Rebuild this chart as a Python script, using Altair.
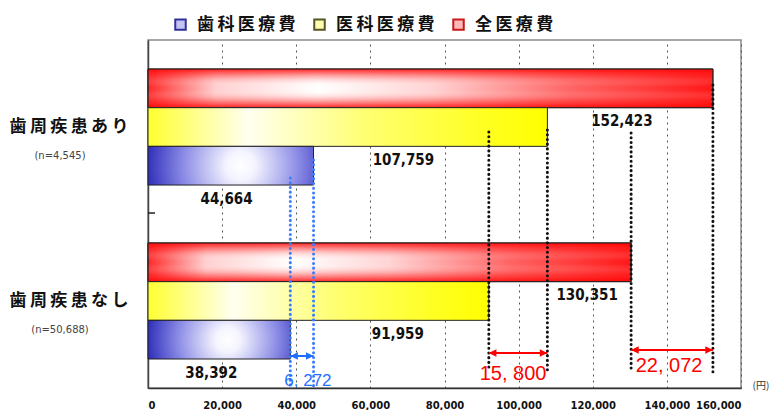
import altair as alt
import pandas as pd

# ---------------- data ----------------
groups = ["歯周疾患あり", "歯周疾患なし"]
sample_sizes = ["(n=4,545)", "(n=50,688)"]
series = ["全医療費", "医科医療費", "歯科医療費"]          # top -> bottom inside a group
legend_order = ["歯科医療費", "医科医療費", "全医療費"]
cost_with = [152423, 107759, 44664]      # 歯周疾患あり
cost_without = [130351, 91959, 38392]    # 歯周疾患なし
x_ticks = [0, 20000, 40000, 60000, 80000, 100000, 120000, 140000, 160000]

W, H = 593, 348
CJK = "Noto Sans CJK JP"
NUM = "DejaVu Sans Condensed"
ANN = "Liberation Sans"
XT = "(円)"

rows = []
for g, vals in zip(groups, [cost_with, cost_without]):
    for s, v in zip(series, vals):
        rows.append({"group": g, "series": s, "value": v})
bars_df = pd.DataFrame(rows)

spaced = "join(split(datum.label, ''), '\u2009')"

y_axis = alt.Axis(labelFont=CJK, labelFontSize=17, labelFontWeight="bold",
                  labelColor="#111", labelPadding=20, ticks=False, domain=True,
                  domainColor="#444", domainWidth=1.5, labelExpr=spaced, labelLimit=300)
x_axis = alt.Axis(values=x_ticks, format=",", labelExpr="format(datum.value, ',')",
                  labelFont="DejaVu Sans", labelFontSize=10,
                  labelFontWeight="bold", labelColor="#111", labelPadding=12, ticks=False,
                  grid=True, gridDash=[2, 4], gridColor="#555", gridWidth=1,
                  domainColor="#333", domainWidth=1.5,
                  titleX=604, titleY=-3, titleAlign="left", titleBaseline="middle",
                  titleFont=CJK, titleFontSize=10, titleFontWeight="normal", titleColor="#333")
x_scale = alt.Scale(domain=[0, 160000], nice=False, zero=True)
y_scale = alt.Scale(domain=groups, paddingInner=0.333, paddingOuter=0.1667)


def X(field):
    return alt.X(field, scale=x_scale, axis=x_axis, title=XT)


def Y():
    return alt.Y("group:N", scale=y_scale, axis=y_axis, title=None)


yoff_enc = alt.YOffset("series:N", scale=alt.Scale(domain=series, paddingInner=0, paddingOuter=0))


def gs(c, o):
    return alt.GradientStop(color=c, offset=o)


fills = {
    "全医療費": alt.LinearGradient(
        gradient="linear", x1=0, y1=0, x2=1, y2=0,
        stops=[gs("#ff2a2a", 0), gs("#ffd0d0", 0.12), gs("#ffffff", 0.3),
               gs("#ffd4d4", 0.5), gs("#ff6464", 0.75), gs("#ff1818", 1)]),
    "医科医療費": alt.LinearGradient(
        gradient="linear", x1=0, y1=0, x2=1, y2=0,
        stops=[gs("#ffff30", 0), gs("#fffff0", 0.25), gs("#ffff70", 0.55),
               gs("#ffff20", 0.85), gs("#ffff00", 1)]),
    "歯科医療費": alt.RadialGradient(
        gradient="radial", x1=0.56, y1=0.5, r1=0, x2=0.56, y2=0.5, r2=0.58,
        stops=[gs("#ffffff", 0), gs("#f4f4ff", 0.15), gs("#8c8ce6", 0.6), gs("#2a2ab8", 1)]),
}
red_sheen = alt.LinearGradient(
    gradient="linear", x1=0, y1=0, x2=0, y2=1,
    stops=[gs("rgba(255,0,0,0.85)", 0), gs("rgba(255,40,40,0.35)", 0.2),
           gs("rgba(255,255,255,0)", 0.45), gs("rgba(255,255,255,0)", 0.55),
           gs("rgba(255,40,40,0.35)", 0.8), gs("rgba(255,0,0,0.85)", 1)])

layers = []
for s in series:
    layers.append(
        alt.Chart(bars_df).transform_filter(alt.datum.series == s)
        .mark_bar(color=fills[s], stroke="#222", strokeWidth=1)
        .encode(x=X("value:Q"), y=Y(), yOffset=yoff_enc)
    )
    if s == "全医療費":
        layers.append(
            alt.Chart(bars_df).transform_filter(alt.datum.series == s)
            .mark_bar(color=red_sheen, stroke="#222", strokeWidth=1)
            .encode(x=X("value:Q"), y=Y(), yOffset=yoff_enc)
        )

# value labels under each bar
label_dx = {("歯周疾患あり", "全医療費"): -91, ("歯周疾患あり", "医科医療費"): -144,
            ("歯周疾患あり", "歯科医療費"): -87, ("歯周疾患なし", "全医療費"): -44,
            ("歯周疾患なし", "医科医療費"): -91, ("歯周疾患なし", "歯科医療費"): -79}
for (g, s), dx in label_dx.items():
    layers.append(
        alt.Chart(bars_df)
        .transform_filter((alt.datum.group == g) & (alt.datum.series == s))
        .transform_calculate(lbl="format(datum.value, ',')")
        .mark_text(font=NUM, fontSize=15, fontWeight="bold", color="#111", dx=dx, dy=33)
        .encode(x=X("value:Q"), y=Y(), yOffset=yoff_enc, text="lbl:N")
    )

# dotted guide lines (x from the data, vertical extent in pixels)
guides = [
    (cost_without[1], 92, 327, "#111"), (cost_with[1], 90, 332, "#111"),
    (cost_without[0], 93, 328, "#111"), (cost_with[0], 45, 335, "#111"),
    (cost_without[2], 138, 348, "#3b7dff"), (cost_with[2], 120, 348, "#3b7dff"),
]
for v, y1, y2, c in guides:
    layers.append(
        alt.Chart(pd.DataFrame({"value": [v]}))
        .mark_rule(color=c, strokeWidth=3, strokeDash=[0.1, 4.6], strokeCap="round")
        .encode(x=X("value:Q"), y=alt.value(y1), y2=alt.value(y2))
    )

# difference arrows and labels
diff_specs = [  # (index in series, arrow y, text y, color, font size, text dx)
    (2, 316, 341, "#1f6fff", 17, 6),
    (1, 313, 334, "#ff0000", 20, -5),
    (0, 310, 326, "#ff0000", 20, -3),
]
for i, ay, ty, c, fs, tdx in diff_specs:
    d = pd.DataFrame({"value": [cost_without[i]], "hi": [cost_with[i]],
                      "diff": [cost_with[i] - cost_without[i]]})
    base = alt.Chart(d)
    layers.append(base.mark_rule(color=c, strokeWidth=2).encode(
        x=X("value:Q"), x2="hi:Q", y=alt.value(ay)))
    layers.append(base.mark_point(shape="M0,0L1.6,-0.8L1.6,0.8Z", filled=True, color=c,
                                  opacity=1, size=90).encode(
        x=X("value:Q"), y=alt.value(ay)))
    layers.append(base.mark_point(shape="M0,0L-1.6,-0.8L-1.6,0.8Z", filled=True, color=c,
                                  opacity=1, size=90).encode(
        x=X("hi:Q"), y=alt.value(ay)))
    layers.append(base.transform_calculate(
        mid="(datum.value + datum.hi) / 2",
        txt="replace(format(datum.diff, ','), ',', ', ')")
        .mark_text(font=ANN, fontSize=fs, color=c, dx=tdx, baseline="middle")
        .encode(x=X("mid:Q"), y=alt.value(ty), text="txt:N"))

# sample size notes under the category labels
layers.append(
    alt.Chart(pd.DataFrame({"group": groups, "n": sample_sizes}))
    .mark_text(font="DejaVu Sans", fontSize=10, color="#444", dy=29)
    .encode(x=alt.value(-88), y=Y(), text="n:N")
)

# small boundary tick on the category axis
layers.append(
    alt.Chart(pd.DataFrame({"group": [groups[0]]}))
    .mark_rule(color="#222", strokeWidth=1.5)
    .encode(x=alt.value(0), x2=alt.value(7), y=alt.value(173))
)

# legend (drawn by a transparent helper layer)
pale = ["#c4c4f4", "#ffffb4", "#ffb8b8"]
dark = ["#30309a", "#555522", "#c81818"]
leg = dict(orient="none", legendX=24, legendY=-24, direction="horizontal", title=None,
           symbolType="square", symbolSize=110, symbolStrokeWidth=2, symbolOpacity=1,
           labelFont=CJK, labelFontSize=17, labelFontWeight="bold", labelColor="#111",
           labelOffset=8, columnPadding=14, labelExpr=spaced, labelLimit=300)
layers.append(
    alt.Chart(pd.DataFrame({"series": legend_order}))
    .mark_square(filled=True, opacity=0, size=10)
    .encode(
        x=alt.value(0), y=alt.value(0),
        fill=alt.Fill("series:N", scale=alt.Scale(domain=legend_order, range=pale),
                      legend=alt.Legend(**leg)),
        stroke=alt.Stroke("series:N", scale=alt.Scale(domain=legend_order, range=dark),
                          legend=alt.Legend(**leg)),
    )
)

chart = (
    alt.layer(*layers)
    .properties(width=W, height=H, background="white",
                padding={"left": 148, "top": 40, "right": 30, "bottom": 22},
                autosize=alt.AutoSizeParams(type="none"))
    .configure_view(stroke="#8a8a8a", strokeWidth=1.5)
)

chart.save("out.html", embed_options={"renderer": "svg", "actions": False})
